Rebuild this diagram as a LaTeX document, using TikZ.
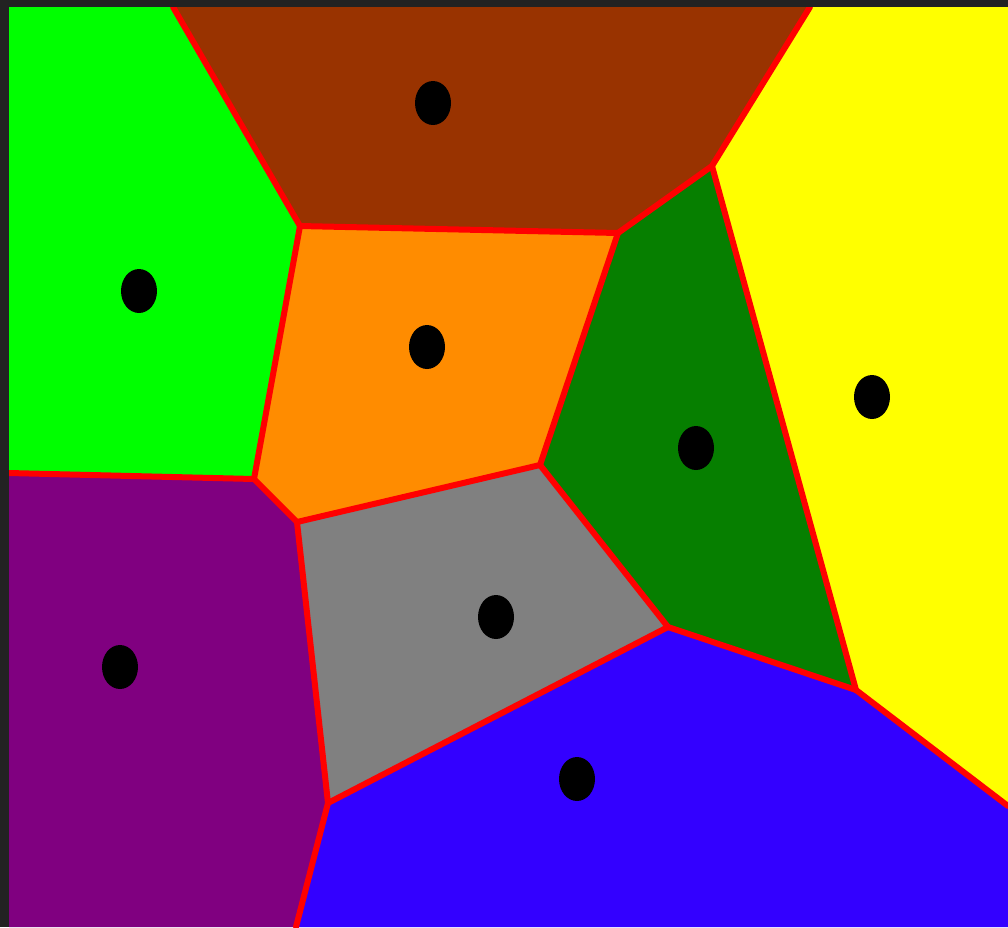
\documentclass[tikz,border=0pt]{standalone}
\usetikzlibrary{positioning,calc,shapes.geometric}

\definecolor{cellgreen}{HTML}{00FF00}
\definecolor{cellbrown}{HTML}{993300}
\definecolor{cellyellow}{HTML}{FFFF00}
\definecolor{cellorange}{HTML}{FF8C00}
\definecolor{celldkgreen}{HTML}{067F00}
\definecolor{cellgray}{HTML}{808080}
\definecolor{cellpurple}{HTML}{800080}
\definecolor{cellblue}{HTML}{3300FF}
\definecolor{frame}{HTML}{222222}

\begin{document}
\begin{tikzpicture}[
  x=0.02cm, y=-0.02cm,
  edge/.style={draw=red, line width=0.12cm, line join=round, line cap=round},
  site/.style={draw=none, fill=black, ellipse, minimum width=0.72cm,
              minimum height=0.88cm, inner sep=0pt},
]
\useasboundingbox (0,0) rectangle (1008,927);
\fill[frame] (0,0) rectangle (1008,927);

% === Vertices ===
\coordinate (tl) at (9,7);
\coordinate (tr) at (1008,7);
\coordinate (br) at (1008,927);
\coordinate (bl) at (9,927);
\coordinate (a) at (173,7);
\coordinate (b) at (300,226);
\coordinate (c) at (618,233);
\coordinate (d) at (712,166);
\coordinate (e) at (810,7);
\coordinate (f) at (540,465);
\coordinate (g) at (254,479);
\coordinate (h) at (9,473);
\coordinate (i) at (297,522);
\coordinate (j) at (668,627);
\coordinate (k) at (856,690);
\coordinate (l) at (1008,806);
\coordinate (m) at (328,803);
\coordinate (n) at (296,927);

% === Cells ===
\fill[cellgreen] (tl) -- (a) -- (b) -- (g) -- (h) -- cycle;
\fill[cellbrown] (a) -- (e) -- (d) -- (c) -- (b) -- cycle;
\fill[cellyellow] (e) -- (tr) -- (l) -- (k) -- (d) -- cycle;
\fill[cellorange] (b) -- (c) -- (f) -- (i) -- (g) -- cycle;
\fill[celldkgreen] (c) -- (d) -- (k) -- (j) -- (f) -- cycle;
\fill[cellpurple] (h) -- (g) -- (i) -- (m) -- (n) -- (bl) -- cycle;
\fill[cellgray] (i) -- (f) -- (j) -- (m) -- cycle;
\fill[cellblue] (m) -- (j) -- (k) -- (l) -- (br) -- (n) -- cycle;

% === Edges ===
\begin{scope}
\clip (tl) rectangle (br);
\draw[edge] (a) -- (b);
\draw[edge] (b) -- (c);
\draw[edge] (c) -- (d);
\draw[edge] (d) -- (e);
\draw[edge] (b) -- (g);
\draw[edge] (g) -- (h);
\draw[edge] (g) -- (i);
\draw[edge] (c) -- (f);
\draw[edge] (f) -- (i);
\draw[edge] (d) -- (k);
\draw[edge] (f) -- (j);
\draw[edge] (j) -- (k);
\draw[edge] (k) -- (l);
\draw[edge] (i) -- (m);
\draw[edge] (j) -- (m);
\draw[edge] (m) -- (n);
\end{scope}

% === Sites ===
\node[site] (sbrown) at (433,103) {};
\node[site] (sgreen) at (139,291) {};
\node[site] (sorange) at (427,347) {};
\node[site] (sdkgreen) at (696,448) {};
\node[site] (syellow) at (872,397) {};
\node[site] (sgray) at (496,617) {};
\node[site] (spurple) at (120,667) {};
\node[site] (sblue) at (577,779) {};

\end{tikzpicture}
\end{document}
